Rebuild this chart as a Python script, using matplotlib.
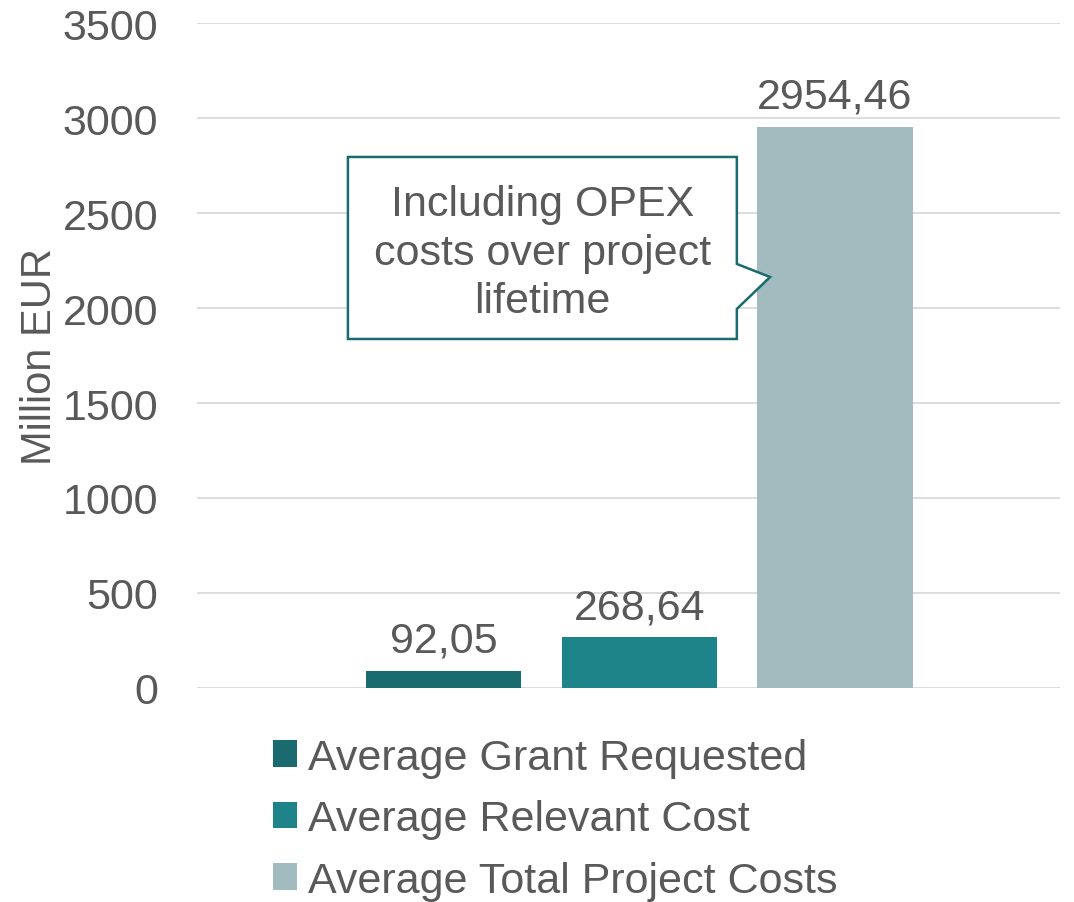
import matplotlib
matplotlib.use("Agg")
import matplotlib.pyplot as plt
from matplotlib.patches import Polygon, Patch

series = ["Average Grant Requested", "Average Relevant Cost", "Average Total Project Costs"]
values = [92.05, 268.64, 2954.46]
value_labels = ["92,05", "268,64", "2954,46"]
colors = ["#1A6B6F", "#1E8489", "#A2BBBE"]
yticks = [0, 500, 1000, 1500, 2000, 2500, 3000, 3500]
callout_text = "Including OPEX\ncosts over project\nlifetime"

text_color = "#595959"
fs = 31
plt.rcParams["font.family"] = ["Liberation Sans", "DejaVu Sans"]
plt.rcParams["font.size"] = fs

fig = plt.figure(figsize=(10.74, 9.03), dpi=100)
ax = fig.add_axes([0.1834, 0.237, 0.8036, 0.7364])

xs = list(range(len(values)))
bars = ax.bar(xs, values, width=0.793, color=colors, zorder=2)

for x, v, lab in zip(xs, values, value_labels):
    ax.annotate(lab, (x, v), xytext=(0, 7), textcoords="offset points",
                ha="center", va="bottom", color=text_color, fontsize=fs)

ax.set_xlim(-1.263, 3.151)
ax.set_ylim(0, 3500)
ax.set_yticks(yticks)
ax.set_xticks([])
ax.tick_params(axis="y", length=0, pad=28, labelcolor=text_color, labelsize=fs)
ax.grid(axis="y", color="#D9D9D9", linewidth=1.3, zorder=0)
for s in ax.spines.values():
    s.set_visible(False)
ax.set_ylabel("Million EUR", color=text_color, fontsize=30, labelpad=2)

# callout box with pointer towards the total cost bar
box = [(-0.491, 2795), (1.498, 2795), (1.498, 2232), (1.668, 2163),
       (1.498, 1995), (1.498, 1837), (-0.491, 1837)]
ax.add_patch(Polygon(box, closed=True, facecolor="white", edgecolor="#1A6B6F",
                     linewidth=1.8, zorder=3))
ax.text(0.504, 2292, callout_text, ha="center", va="center", color=text_color,
        fontsize=fs, linespacing=1.27, zorder=4)

handles = [Patch(facecolor=c, edgecolor="none") for c in colors]
fig.legend(handles, series, loc="upper left", bbox_to_anchor=(0.254, 0.182),
           frameon=False, handlelength=0.56, handleheight=0.56,
           handletextpad=0.26, labelspacing=0.5, fontsize=fs,
           labelcolor=text_color, borderpad=0, borderaxespad=0)

fig.savefig("out.png", dpi=100)
